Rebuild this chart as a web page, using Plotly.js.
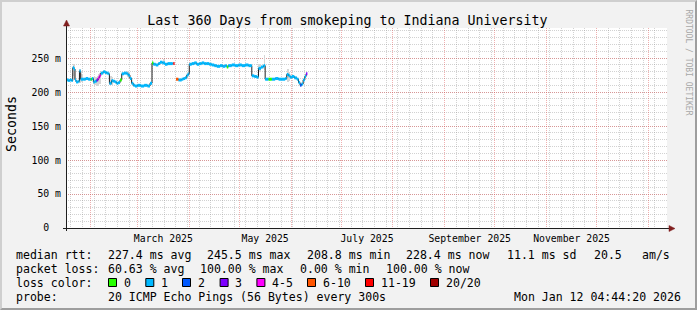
<!DOCTYPE html>
<html><head><meta charset="utf-8">
<script src="https://cdn.plot.ly/plotly-3.0.1.min.js"></script>
<style>
html,body{margin:0;padding:0;background:#f2f2f2;}
#wrap{position:relative;width:697px;height:310px;overflow:hidden;}
#chart{width:697px;height:310px;}
#frame{position:absolute;left:0;top:0;width:697px;height:310px;box-sizing:border-box;border-top:2px solid #cfcfcf;border-left:2px solid #cfcfcf;border-bottom:2px solid #9e9e9e;border-right:2px solid #9e9e9e;pointer-events:none;}
</style></head>
<body><div id="wrap"><div id="chart"></div><div id="frame"></div></div>
<script>
// ---------------- data ----------------
const titleText = 'Last 360 Days from smokeping to Indiana University';
const rangeStart = '2025-01-17 04:44:20';
const rangeEnd = '2026-01-12 04:44:20';

const times = [
'2025-01-17 06:00','2025-01-18 12:00','2025-01-19 12:00','2025-01-20 12:00','2025-01-21 06:00',
'2025-01-22 00:00','2025-01-22 14:00','2025-01-23 06:00','2025-01-24 14:00','2025-01-25 06:00',
'2025-01-26 00:00','2025-01-27 12:00','2025-01-29 00:00','2025-01-30 12:00','2025-02-01 00:00',
'2025-02-01 18:00','2025-02-02 14:00','2025-02-03 12:00','2025-02-04 14:00','2025-02-05 12:00',
'2025-02-06 06:00','2025-02-07 00:00','2025-02-08 12:00','2025-02-09 14:00','2025-02-10 12:00',
'2025-02-11 14:00','2025-02-12 05:00','2025-02-13 12:00','2025-02-14 12:00','2025-02-15 14:00',
'2025-02-16 12:00','2025-02-17 12:00','2025-02-18 14:00','2025-02-19 14:00','2025-02-21 00:00',
'2025-02-22 14:00','2025-02-23 12:00','2025-02-24 12:00','2025-02-25 12:00','2025-02-26 12:00',
'2025-02-27 12:00','2025-03-01 00:00','2025-03-03 00:00','2025-03-05 00:00','2025-03-07 00:00',
'2025-03-08 12:00','2025-03-09 17:00','2025-03-10 12:00','2025-03-12 00:00','2025-03-13 12:00',
'2025-03-14 12:00','2025-03-16 00:00','2025-03-17 12:00','2025-03-19 00:00','2025-03-20 12:00',
'2025-03-22 00:00','2025-03-22 12:00','2025-03-23 06:00','2025-03-24 02:00','2025-03-25 12:00',
'2025-03-26 12:00','2025-03-27 12:00','2025-03-28 12:00','2025-03-29 12:00','2025-03-30 12:00',
'2025-03-31 12:00','2025-04-01 01:00','2025-04-02 12:00','2025-04-04 00:00','2025-04-05 12:00',
'2025-04-07 00:00','2025-04-08 12:00','2025-04-10 00:00','2025-04-11 12:00','2025-04-13 00:00',
'2025-04-14 12:00','2025-04-16 00:00','2025-04-17 12:00','2025-04-19 12:00','2025-04-21 00:00',
'2025-04-22 12:00','2025-04-23 12:00','2025-04-24 10:00','2025-04-26 12:00','2025-04-28 12:00',
'2025-04-30 12:00','2025-05-02 12:00','2025-05-04 12:00','2025-05-06 12:00','2025-05-08 12:00',
'2025-05-10 00:00','2025-05-11 12:00','2025-05-12 12:00','2025-05-14 00:00','2025-05-15 12:00',
'2025-05-16 12:00','2025-05-18 10:00','2025-05-20 12:00','2025-05-22 12:00','2025-05-24 12:00',
'2025-05-26 12:00','2025-05-28 12:00','2025-05-29 10:00','2025-05-30 12:00','2025-05-31 12:00',
'2025-06-01 12:00','2025-06-03 00:00','2025-06-04 12:00','2025-06-05 12:00','2025-06-06 10:00',
'2025-06-07 06:00','2025-06-08 06:00','2025-06-09 06:00','2025-06-10 00:00','2025-06-10 19:00'
];
// median RTT in milliseconds (null = no data)
const medianMs = [
218,217,218,217,236, 234,218,215,216,231, 219,219,220,219,219,
220,215,216,218,221, 224,228,230,229,228, 227,213,217,216,215,
213,214,218,227,228, 227,225,220,213,210, 209,210,209,210,209,
213,243,241,240,242, 244,243,241,242,242, 242,242,null,219,218,
218,219,220,221,225, 227,241,242,243,241, 242,243,242,242,241,
240,239,238,239,238, 239,237,239,240,239, 240,239,240,239,224,
223,222,235,237,239, 219,219,219,220,219, 219,220,226,224,222,
223,221,219,214,210, 212,218,223,227,null
];
// lost pings out of 20
const lossCount = [
1,1,1,1,1, 1,1,1,1,1, 1,1,1,1,0,
1,1,1,3,4, 4,1,1,1,1, 1,1,1,1,1,
1,1,0,1,1, 1,1,1,1,1, 1,1,1,1,1,
1,0,1,1,1, 1,1,1,1,1, 1,11,null,6,1,
1,1,1,1,1, 1,1,1,1,1, 1,1,1,1,1,
1,1,1,1,1, 1,0,1,1,1, 1,1,1,1,1,
1,1,1,1,1, 1,0,1,1,1, 1,1,1,1,1,
1,1,1,1,2, 1,1,1,3,null
];
// smoke (spread of pings) in ms, only where visible
const smokeLoMs = [
null,null,null,216,224, 220,null,null,null,214, 215,null,null,null,null,
null,212,210,209,209, 212,null,null,null,null, null,210,211,null,null,
null,null,null,null,null, 222,220,null,null,null, null,null,null,null,null,
null,null,null,null,null, null,241,null,null,null, null,null,null,null,null,
null,null,null,null,219, null,null,null,null,null, null,null,null,null,null,
null,null,null,null,null, null,null,null,null,null, null,null,null,null,null,
null,null,229,null,232, null,null,null,null,null, null,null,215,216,null,
null,null,null,null,null, null,null,null,null,null
];
const smokeHiMs = [
null,null,null,228,241, 240,null,null,null,234, 226,null,null,null,null,
null,222,222,224,226, 228,null,null,null,null, null,224,222,null,null,
null,null,null,null,null, 231,230,null,null,null, null,null,null,null,null,
null,null,null,null,null, null,249,null,null,null, null,null,null,null,null,
null,null,null,null,229, null,null,null,null,null, null,null,null,null,null,
null,null,null,null,null, null,null,null,null,null, null,null,null,null,null,
null,null,241,null,254, null,null,null,null,null, null,null,234,230,null,
null,null,null,null,null, null,null,null,null,null
];

const yTickVals = [0,50,100,150,200,250];
const yTickText = ['0\u00a0\u00a0','50 m','100 m','150 m','200 m','250 m'];
const monthLabelDates = ['2025-03-16 12:00','2025-05-16 12:00','2025-07-16 12:00','2025-09-16 00:00','2025-11-16 00:00'];
const monthLabelText = ['March 2025','May 2025','July 2025','September 2025','November 2025'];

const lossLabels = ['0','1','2','3','4-5','6-10','11-19','20/20'];
const lossUpper  = [0,1,2,3,5,10,19,20];
const lossColors = ['#26ff00','#00b8ff','#0059ff','#7e00ff','#ff00ff','#ff5500','#ff0000','#a10000'];

const rttLabel = 'median rtt:';
const rttStats = ['227.4 ms avg','245.5 ms max','208.8 ms min','228.4 ms now','11.1 ms sd','20.5','am/s'];
const lossLabel = 'packet loss:';
const lossStats = ['60.63 % avg','100.00 % max','0.00 % min','100.00 % now'];
const lossColorLabel = 'loss color:';
const probeLabel = 'probe:';
const probeText = '20 ICMP Echo Pings (56 Bytes) every 300s';
const stampText = 'Mon Jan 12 04:44:20 2026';
const yTitle = 'Seconds';
const watermark = 'RRDTOOL / TOBI OETIKER';

// ---------------- geometry (pixels) ----------------
const W = 697, H = 310;
const PL = 66, PT = 28, PW = 601, PH = 200;
const px2x = p => (p - PL) / PW;
const py2y = p => (PT + PH - p) / PH;
const MONO = 'DejaVu Sans Mono';
const AXISC = '#1f1f1f', ARROWC = '#801f1f';
const MGRID = 'rgba(222,79,79,0.45)', GRID = 'rgba(143,143,143,0.4)';

// ---------------- traces ----------------
const toMs = t => Date.parse(t.replace(' ', 'T') + ':00Z');
const traces = [];

// smoke as bars
const sx = [], sb = [], sy = [], sw = [];
for (let i = 0; i < times.length - 1; i++) {
  if (smokeLoMs[i] != null && smokeHiMs[i] != null) {
    sx.push(times[i]); sb.push(smokeLoMs[i]); sy.push(smokeHiMs[i] - smokeLoMs[i]);
    sw.push(toMs(times[i + 1]) - toMs(times[i]));
  }
}
traces.push({type:'bar', x:sx, y:sy, base:sb, width:sw, offset:0,
  marker:{color:'#d6d6d6', line:{width:0}}, hoverinfo:'skip', showlegend:false});

// thin dark step line
traces.push({type:'scatter', mode:'lines', x:times, y:medianMs,
  line:{color:'#202020', width:1, shape:'hv'}, connectgaps:false, hoverinfo:'skip', showlegend:false});

// thick loss-coloured segments
function lossClass(n){ for (let c = 0; c < lossUpper.length; c++) if (n <= lossUpper[c]) return c; return lossUpper.length - 1; }
const segs = lossColors.map(() => ({x:[], y:[]}));
for (let i = 0; i < times.length - 1; i++) {
  if (medianMs[i] == null) continue;
  const c = lossClass(lossCount[i]);
  segs[c].x.push(times[i], times[i + 1], null);
  segs[c].y.push(medianMs[i], medianMs[i], null);
}
segs.forEach((s, c) => {
  if (s.x.length) traces.push({type:'scatter', mode:'lines', x:s.x, y:s.y,
    line:{color:lossColors[c], width:3}, connectgaps:false, hoverinfo:'skip', showlegend:false});
});
// carrier for label axis
traces.push({type:'scatter', mode:'lines', x:monthLabelDates, y:monthLabelDates.map(() => null),
  xaxis:'x2', yaxis:'y', hoverinfo:'skip', showlegend:false});

// ---------------- annotations & shapes ----------------
const ann = [];
const shp = [];
function txt(text, xpx, ypx, opts) {
  ann.push(Object.assign({text:text, xref:'paper', yref:'paper', x:px2x(xpx), y:py2y(ypx),
    xanchor:'left', yanchor:'middle', showarrow:false, borderpad:0, borderwidth:0,
    font:{family:MONO, size:11.55, color:'#000'}}, opts || {}));
}
// legend rows
const colX = [107.6, 207, 307, 406, 506.7, 593.8, 642];
txt(rttLabel, 16, 254.5);
rttStats.forEach((s, i) => txt(s, colX[i], 254.5));
const lossX = [107.6, 200, 300, 385.8];
txt(lossLabel, 16, 268.5);
lossStats.forEach((s, i) => txt(s, lossX[i], 268.5));
txt(lossColorLabel, 16, 282.5);
const swX = [108, 145.3, 182, 219.6, 256.4, 307, 365, 430];
lossLabels.forEach((l, i) => {
  shp.push({type:'rect', xref:'paper', yref:'paper', x0:px2x(swX[i] + 0.5), x1:px2x(swX[i] + 8.5),
    y0:py2y(278.5), y1:py2y(286.5), fillcolor:lossColors[i], line:{color:'#000', width:1}});
  txt(l, swX[i] + 15.5, 282.5);
});
txt(probeLabel, 16, 296.5);
txt(probeText, 107.6, 296.5);
txt(stampText, 681, 296.5, {xanchor:'right'});
// y title
txt(yTitle, 11, 124, {xanchor:'center', textangle:-90, font:{family:MONO, size:13.3, color:'#000'}});
// watermark
txt(watermark, 688.5, 62, {xanchor:'center', textangle:90, font:{family:MONO, size:8, color:'#a8a8a8'}});

// axis lines and arrows
shp.push({type:'line', xref:'paper', yref:'paper', x0:px2x(66.5), x1:px2x(66.5), y0:py2y(231), y1:py2y(24),
  line:{color:AXISC, width:1}, layer:'above'});
shp.push({type:'line', xref:'paper', yref:'paper', x0:px2x(63), x1:px2x(670), y0:py2y(228.5), y1:py2y(228.5),
  line:{color:AXISC, width:1}, layer:'above'});
shp.push({type:'path', xref:'paper', yref:'paper', layer:'above',
  path:`M ${px2x(63.5)} ${py2y(26)} L ${px2x(69.5)} ${py2y(26)} L ${px2x(66.5)} ${py2y(20)} Z`,
  fillcolor:ARROWC, line:{color:ARROWC, width:0.5}});
shp.push({type:'path', xref:'paper', yref:'paper', layer:'above',
  path:`M ${px2x(669)} ${py2y(225.5)} L ${px2x(669)} ${py2y(231.5)} L ${px2x(675)} ${py2y(228.5)} Z`,
  fillcolor:ARROWC, line:{color:ARROWC, width:0.5}});

// ---------------- layout ----------------
const layout = {
  width:W, height:H,
  margin:{l:PL, r:W - PL - PW, t:PT, b:H - PT - PH, pad:0},
  paper_bgcolor:'#f2f2f2', plot_bgcolor:'#ffffff',
  showlegend:false, bargap:0,
  font:{family:MONO, color:'#000'},
  title:{text:titleText, font:{family:MONO, size:13.3, color:'#000'},
    xref:'container', yref:'container', x:347.5 / W, xanchor:'center', y:1 - 20 / H, yanchor:'middle'},
  xaxis:{type:'date', range:[rangeStart, rangeEnd], tickmode:'linear', tick0:'2025-01-01', dtick:'M1',
    showticklabels:false, ticks:'', showgrid:true, gridcolor:MGRID, griddash:'1px,1px', gridwidth:1,
    zeroline:false, showline:false, fixedrange:true,
    minor:{tick0:'2025-01-20', dtick:7 * 86400000, showgrid:true, gridcolor:GRID, griddash:'1px,1px', gridwidth:1, ticks:''}},
  xaxis2:{type:'date', overlaying:'x', matches:'x', anchor:'y', side:'bottom', tickmode:'array',
    tickvals:monthLabelDates, ticktext:monthLabelText, showgrid:false, ticks:'', zeroline:false, showline:false,
    tickfont:{family:MONO, size:9.8, color:'#000'}, ticklabelstandoff:3, fixedrange:true},
  yaxis:{range:[0, 294.4], tickmode:'array', tickvals:yTickVals, ticktext:yTickText,
    showgrid:true, gridcolor:MGRID, griddash:'1px,1px', gridwidth:1, ticks:'', zeroline:false, showline:false,
    tickfont:{family:MONO, size:9.8, color:'#000'}, ticklabelstandoff:4, fixedrange:true,
    minor:{tick0:0, dtick:10, showgrid:true, gridcolor:GRID, griddash:'1px,1px', gridwidth:1, ticks:''}},
  annotations:ann, shapes:shp
};

Plotly.newPlot('chart', traces, layout, {displayModeBar:false, staticPlot:true});
</script></body></html>
